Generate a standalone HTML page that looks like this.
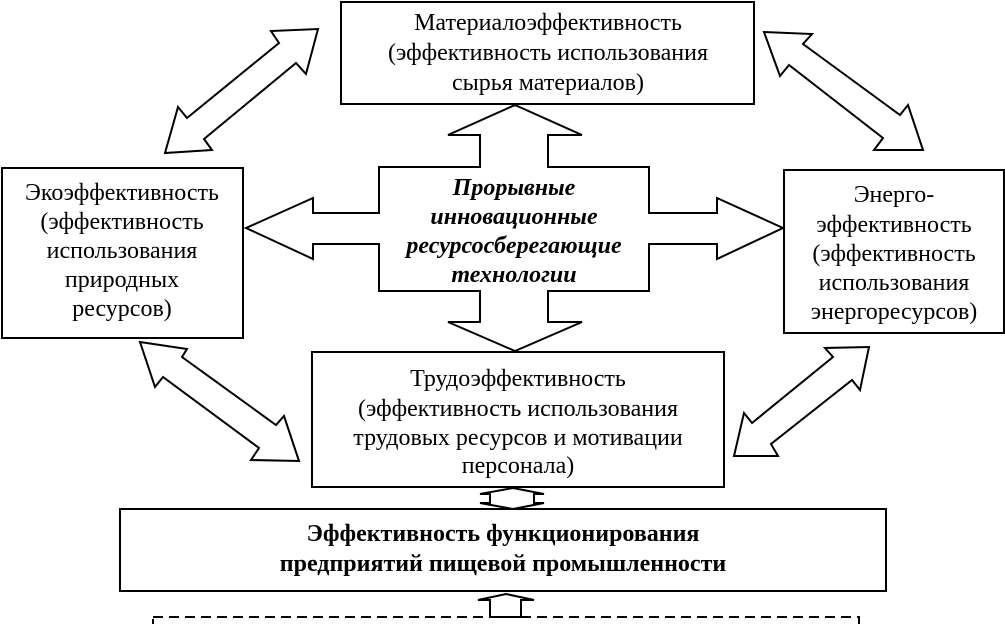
<!DOCTYPE html>
<html><head><meta charset="utf-8"><style>
html,body{margin:0;padding:0;background:#fff;}
svg{display:block;}
text{font-family:"Liberation Serif",serif;font-size:24px;fill:#000;text-anchor:middle;}
.b{font-weight:bold;font-size:24px;}
.bi{font-weight:bold;font-style:italic;font-size:24px;}
</style></head><body>
<svg width="1005" height="624" viewBox="0 0 1005 624" xmlns="http://www.w3.org/2000/svg">
<g fill="#fff" stroke="#000" stroke-width="2">
<rect x="341" y="2" width="413" height="102"/>
<rect x="2" y="168" width="241" height="170"/>
<rect x="784" y="170" width="220" height="163"/>
<rect x="312" y="352" width="412" height="135"/>
<rect x="120" y="509" width="766" height="82"/>
<polygon points="515,105 582,135 548,135 548,167 649,167 649,213 717,213 717,198 783,228 717,259 717,244 649,244 649,291 548,291 548,322 582,322 515,351 448,322 480,322 480,291 379,291 379,244 313,244 313,259 246,228 313,198 313,213 379,213 379,167 480,167 480,135 448,135"/>
<polygon points="165,153 178,107 187,118 279,43 271,31 318,29 306,74 296,63 204,139 212,150"/>
<polygon points="140,342 187,349 182,357 276,425 284,416 299,461 251,460 259,448 163,377 155,387"/>
<polygon points="764,32 812,34 803,44 900,115 908,105 923,150 874,150 883,138 789,65 780,76"/>
<polygon points="869,347 860,390 852,380 771,444 778,456 734,456 744,413 752,423 833,357 825,348"/>
<polygon points="513,488 544,494 534,494 534,503 544,503 513,509 480,503 490,503 490,494 480,494"/>
<polygon points="506,594 534,600 521,600 521,617 490,617 490,600 478,600"/>
</g>
<rect x="153" y="617" width="706" height="20" fill="none" stroke="#000" stroke-width="2" stroke-dasharray="10,6"/>
<text x="548" y="30">Материалоэффективность</text>
<text x="548" y="60">(эффективность использования</text>
<text x="548" y="90">сырья  материалов)</text>
<text x="122" y="200">Экоэффективность</text>
<text x="122" y="229">(эффективность</text>
<text x="122" y="258">использования</text>
<text x="122" y="287">природных</text>
<text x="122" y="316">ресурсов)</text>
<text x="894" y="202">Энерго-</text>
<text x="894" y="232">эффективность</text>
<text x="894" y="261">(эффективность</text>
<text x="894" y="290">использования</text>
<text x="894" y="319">энергоресурсов)</text>
<text x="518" y="386">Трудоэффективность</text>
<text x="518" y="416">(эффективность использования</text>
<text x="518" y="445">трудовых ресурсов и мотивации</text>
<text x="518" y="473">персонала)</text>
<text class="bi" x="514" y="195">Прорывные</text>
<text class="bi" x="514" y="224">инновационные</text>
<text class="bi" x="514" y="253">ресурсосберегающие</text>
<text class="bi" x="514" y="282">технологии</text>
<text class="b" x="503" y="541">Эффективность функционирования</text>
<text class="b" x="503" y="571">предприятий пищевой промышленности</text>
</svg>
</body></html>
